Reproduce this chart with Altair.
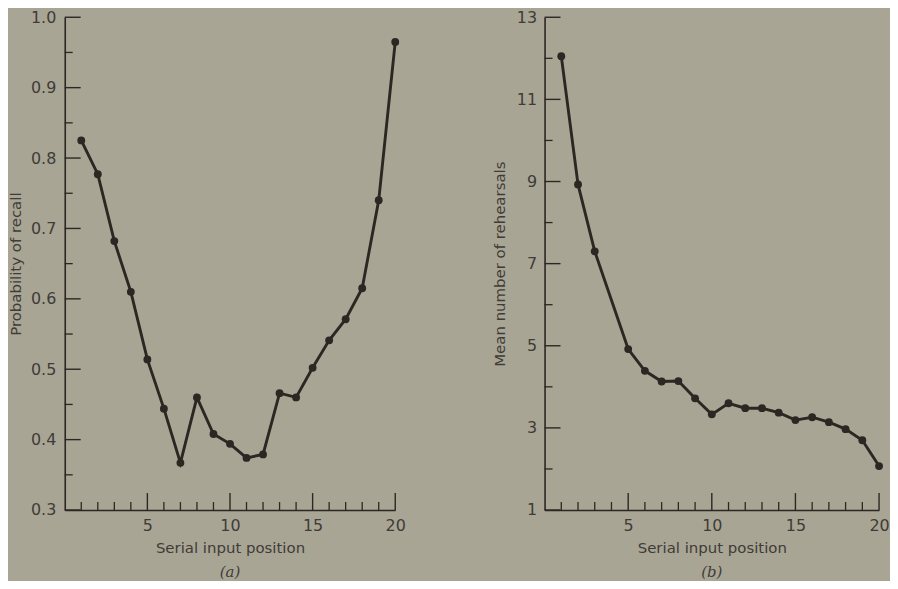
import altair as alt
import pandas as pd

# ---------------- data ----------------
positions_a = [1, 2, 3, 4, 5, 6, 7, 8, 9, 10, 11, 12, 13, 14, 15, 16, 17, 18, 19, 20]
recall = [0.825, 0.777, 0.682, 0.610, 0.514, 0.444, 0.367, 0.460, 0.408, 0.394,
          0.374, 0.379, 0.466, 0.460, 0.502, 0.541, 0.571, 0.615, 0.740, 0.965]

positions_b = [1, 2, 3, 5, 6, 7, 8, 9, 10, 11, 12, 13, 14, 15, 16, 17, 18, 19, 20]
rehearsals = [12.05, 8.93, 7.30, 4.92, 4.39, 4.13, 4.14, 3.72, 3.33, 3.60,
              3.48, 3.48, 3.37, 3.19, 3.26, 3.14, 2.97, 2.70, 2.07]

x_major = [5, 10, 15, 20]
x_minor = [1, 2, 3, 4, 6, 7, 8, 9, 11, 12, 13, 14, 16, 17, 18, 19]
y_major_a = [0.3, 0.4, 0.5, 0.6, 0.7, 0.8, 0.9, 1.0]
y_minor_a = [0.35, 0.45, 0.55, 0.65, 0.75, 0.85, 0.95]
y_major_b = [1, 3, 5, 7, 9, 11, 13]
y_minor_b = [2, 4, 6, 8, 10, 12]

# ---------------- style ----------------
BG = "#a9a595"
INK = "#2b2722"
TXT = "#3e3c37"
FONT = "DejaVu Sans"
W_A, H = 332, 495
W_B = 336


def panel(xs, ys, ytitle, ymajor, yminor, ydomain, yfmt, w, tag, label_pad_y, title_pad_y):
    xscale = alt.Scale(domain=[0, 20], nice=False, zero=False)
    yscale = alt.Scale(domain=ydomain, nice=False, zero=False)
    df = pd.DataFrame({"pos": xs, "val": ys})

    base = alt.Chart(df)
    line = base.mark_line(color=INK, strokeWidth=2.9).encode(
        x=alt.X("pos:Q", scale=xscale,
                axis=alt.Axis(values=x_major, ticks=False, tickSize=0, grid=False,
                              title="Serial input position", labelPadding=8,
                              titlePadding=7, domainColor=INK, domainWidth=1.6,
                              labelFont=FONT, labelFontSize=16, labelColor=TXT,
                              titleFont=FONT, titleFontSize=15, titleFontWeight="normal",
                              titleColor=TXT, labelFlush=False)),
        y=alt.Y("val:Q", scale=yscale,
                axis=alt.Axis(values=ymajor, format=yfmt, ticks=False, tickSize=0,
                              grid=False, title=ytitle, labelPadding=label_pad_y,
                              titlePadding=title_pad_y, domainColor=INK, domainWidth=1.6,
                              labelFont=FONT, labelFontSize=16, labelColor=TXT,
                              titleFont=FONT, titleFontSize=15, titleFontWeight="normal",
                              titleColor=TXT)),
    )
    pts = base.mark_circle(color=INK, size=62, opacity=1).encode(
        x=alt.X("pos:Q", scale=xscale), y=alt.Y("val:Q", scale=yscale))

    xmaj = alt.Chart(pd.DataFrame({"t": x_major})).mark_rule(color=INK, strokeWidth=1.4).encode(
        x=alt.X("t:Q", scale=xscale), y=alt.value(H), y2=alt.value(H - 17))
    xmin = alt.Chart(pd.DataFrame({"t": x_minor})).mark_rule(color=INK, strokeWidth=1.3).encode(
        x=alt.X("t:Q", scale=xscale), y=alt.value(H), y2=alt.value(H - 8))
    ymaj = alt.Chart(pd.DataFrame({"t": ymajor})).mark_rule(color=INK, strokeWidth=1.4).encode(
        y=alt.Y("t:Q", scale=yscale), x=alt.value(0), x2=alt.value(16))
    ymin = alt.Chart(pd.DataFrame({"t": yminor})).mark_rule(color=INK, strokeWidth=1.3).encode(
        y=alt.Y("t:Q", scale=yscale), x=alt.value(0), x2=alt.value(8))

    return alt.layer(xmin, xmaj, ymin, ymaj, line, pts).properties(
        width=w, height=H,
        title=alt.TitleParams(tag, orient="bottom", anchor="middle", frame="group",
                              font="DejaVu Serif", fontStyle="italic", fontWeight="normal",
                              fontSize=15, color=TXT, offset=9),
    )


pa = panel(positions_a, recall, "Probability of recall", y_major_a, y_minor_a,
           [0.3, 1.0], ".1f", W_A, "(a)", 9, 7)
pb = panel(positions_b, rehearsals, "Mean number of rehearsals", y_major_b, y_minor_b,
           [1, 13], "d", W_B, "(b)", 8, 9)

chart = alt.hconcat(pa, pb, spacing=86).properties(
    background=BG, padding={"left": 0, "top": 0, "right": 0, "bottom": 0}
).configure_view(stroke=None)

chart.save("out.html", embed_options={"renderer": "svg", "actions": False})
